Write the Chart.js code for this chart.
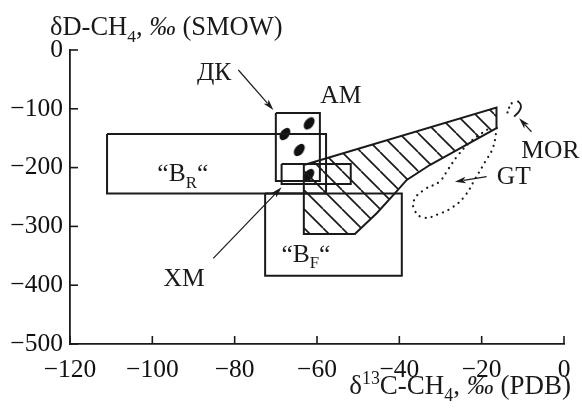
<!DOCTYPE html>
<html>
<head>
<meta charset="utf-8">
<script src="https://cdn.jsdelivr.net/npm/chart.js@4.4.0/dist/chart.umd.min.js"></script>
<style>
  html, body { margin: 0; padding: 0; background: #fff; }
  #wrap { width: 582px; height: 408px; }
</style>
</head>
<body>
<div id="wrap"><canvas id="chart" width="582" height="408"></canvas></div>
<script>
// ─── data: δ13C-CH4 (x, ‰ PDB) vs δD-CH4 (y, ‰ SMOW) ───
const xTicks = [-120, -100, -80, -60, -40, -20, 0];
const yTicks = [-500, -400, -300, -200, -100, 0];

// boxes: [xmin, xmax, ytop, ybottom]
const boxBR = [-111, -57.8, -143, -244];   // "B_R"
const boxBF = [-72.6, -39.4, -244, -384];  // "B_F"
const boxAM = [-70, -59.3, -107, -223];    // ДК / AM
const boxXM = [-68.6, -51.8, -194, -228];  // XM

// hatched field
const hatchX = [-63.2, -16.4, -16.4, -24.5, -32.6, -38.2, -41.1, -45.5, -50.8, -63.2, -63.2];
const hatchY = [-195.6, -98, -133, -164.5, -195.6, -221, -243.7, -277.7, -313, -313, -195.6];

// GT loop (dotted)
const gtX = [-16.3, -17.3, -19.2, -21.6, -24.1, -27, -30.4, -34, -36.2, -36.4, -33.8, -30.3, -28.1, -25.9, -22.8, -19.9, -17.6];
const gtY = [-132.7, -166.7, -190.5, -219.4, -248.3, -267, -278.9, -285.2, -273.8, -255.1, -236.9, -224, -202.4, -180.3, -156.5, -141.2, -131];

// MOR
const morDotX = [-12.7, -13.4, -13.9];
const morDotY = [-90.6, -99.1, -110.5];
const morX = [-11.3, -10.5, -10.7, -12.1];
const morY = [-86.2, -93.5, -102, -113.4];

// samples
const dotX = [-61.9, -67.8, -64.3, -62];
const dotY = [-124.7, -142.9, -170, -212.6];

// annotations (data units)
const arrows = [
  [-79.1, -34, -70.6, -102],     // ДК
  [-85.2, -354.3, -68.6, -233.5], // XM
  [-18.8, -215.5, -26.5, -224],  // GT
  [-7.9, -139, -10.9, -116.2]    // MOR
];
const notes = [
  { parts: [{ t: 'ДК' }], x: -85, y: -51 },
  { parts: [{ t: 'AM' }], x: -54.2, y: -90.1 },
  { parts: [{ t: '“B' }, { t: 'R', s: 'sub' }, { t: '“' }], x: -92.6, y: -222.8 },
  { parts: [{ t: '“B' }, { t: 'F', s: 'sub' }, { t: '“' }], x: -62.7, y: -360 },
  { parts: [{ t: 'XM' }], x: -92.3, y: -401.4 },
  { parts: [{ t: 'MOR' }], x: -3.3, y: -184.2 },
  { parts: [{ t: 'GT' }], x: -12.2, y: -227.9 }
];

const FONT = '"Liberation Serif", "Times New Roman", serif';
const INK = '#1a1a1a';

const zip = (xs, ys) => xs.map((v, i) => ({ x: v, y: ys[i] }));
const box = b => [
  { x: b[0], y: b[2] }, { x: b[1], y: b[2] }, { x: b[1], y: b[3] },
  { x: b[0], y: b[3] }, { x: b[0], y: b[2] }
];
const shape = (data, extra) => Object.assign({
  data, showLine: true, pointRadius: 0, borderColor: INK, borderWidth: 2,
  fill: false, tension: 0, clip: false
}, extra);

function hatchPattern() {
  const s = 19, c = document.createElement('canvas');
  c.width = c.height = s;
  const g = c.getContext('2d');
  g.strokeStyle = INK; g.lineWidth = 1.7;
  for (const k of [-s, 0, s]) { g.beginPath(); g.moveTo(k, 0); g.lineTo(k + s, s); g.stroke(); }
  return g.createPattern(c, 'repeat');
}

function blob() {
  const c = document.createElement('canvas');
  c.width = c.height = 18;
  const g = c.getContext('2d');
  g.translate(9, 9); g.rotate(-Math.PI / 3.4);
  g.beginPath(); g.ellipse(0, 0, 7, 4.4, 0, 0, Math.PI * 2);
  g.fillStyle = '#111'; g.fill();
  return c;
}

function rich(ctx, parts, x, y, align, size) {
  const font = p => `${p.i ? 'italic ' : ''}${p.s ? size * 0.66 : size}px ${FONT}`;
  let w = 0;
  parts.forEach(p => { ctx.font = font(p); p.w = ctx.measureText(p.t).width; w += p.w; });
  let cx = align === 'right' ? x - w : align === 'center' ? x - w / 2 : x;
  parts.forEach(p => {
    ctx.font = font(p);
    const dy = p.s === 'sub' ? size * 0.26 : p.s === 'sup' ? -size * 0.36 : 0;
    ctx.fillText(p.t, cx, y + dy);
    cx += p.w;
  });
}

function arrow(ctx, x1, y1, x2, y2) {
  const a = Math.atan2(y2 - y1, x2 - x1), L = 11, W = 3.2;
  ctx.beginPath(); ctx.moveTo(x1, y1);
  ctx.lineTo(x2 - Math.cos(a) * L * 0.8, y2 - Math.sin(a) * L * 0.8); ctx.stroke();
  ctx.beginPath();
  ctx.moveTo(x2, y2);
  ctx.lineTo(x2 - Math.cos(a) * L - Math.sin(a) * W, y2 - Math.sin(a) * L + Math.cos(a) * W);
  ctx.lineTo(x2 - Math.cos(a) * L * 0.75, y2 - Math.sin(a) * L * 0.75);
  ctx.lineTo(x2 - Math.cos(a) * L + Math.sin(a) * W, y2 - Math.sin(a) * L - Math.cos(a) * W);
  ctx.closePath(); ctx.fill();
}

const overlay = {
  id: 'overlay',
  afterDraw(chart) {
    const { ctx, chartArea: ca, scales: { x, y } } = chart;
    const X = v => x.getPixelForValue(v), Y = v => y.getPixelForValue(v);
    ctx.save();
    ctx.strokeStyle = INK; ctx.fillStyle = INK; ctx.lineWidth = 1.6;
    // inward tick marks
    xTicks.forEach(v => { ctx.beginPath(); ctx.moveTo(X(v), ca.bottom); ctx.lineTo(X(v), ca.bottom - 8); ctx.stroke(); });
    yTicks.forEach(v => { ctx.beginPath(); ctx.moveTo(ca.left, Y(v)); ctx.lineTo(ca.left + 8, Y(v)); ctx.stroke(); });
    // arrows
    ctx.lineWidth = 1.2;
    arrows.forEach(a => arrow(ctx, X(a[0]), Y(a[1]), X(a[2]), Y(a[3])));
    // labels
    ctx.textBaseline = 'alphabetic';
    notes.forEach(n => rich(ctx, n.parts.map(p => Object.assign({}, p)), X(n.x), Y(n.y), 'center', 25.5));
    // axis titles
    rich(ctx, [{ t: 'δD-CH' }, { t: '4', s: 'sub' }, { t: ', ' }, { t: '‰', i: true }, { t: ' (SMOW)' }], 50, 35, 'left', 26.5);
    rich(ctx, [{ t: 'δ' }, { t: '13', s: 'sup' }, { t: 'C-CH' }, { t: '4', s: 'sub' }, { t: ', ' }, { t: '‰', i: true }, { t: ' (PDB)' }], 571, 394, 'right', 27);
    ctx.restore();
  }
};

const minus = v => String(v).replace('-', '\u2212');

new Chart(document.getElementById('chart'), {
  type: 'scatter',
  data: {
    datasets: [
      shape(zip(hatchX, hatchY), { fill: 'shape', backgroundColor: hatchPattern() }),
      shape(box(boxBR)),
      shape(box(boxBF)),
      shape(box(boxAM)),
      shape(box(boxXM)),
      shape(zip(gtX, gtY), { tension: 0.45, borderWidth: 2.2, borderDash: [0.1, 6], borderCapStyle: 'round' }),
      shape(zip(morDotX, morDotY), { tension: 0.4, borderWidth: 2.2, borderDash: [0.1, 5], borderCapStyle: 'round' }),
      shape(zip(morX, morY), { tension: 0.5, borderWidth: 1.8 }),
      { data: zip(dotX, dotY), showLine: false, pointStyle: blob(), pointRadius: 9, clip: false }
    ]
  },
  options: {
    responsive: false,
    animation: false,
    events: [],
    layout: { padding: { left: 0, top: 50, right: 18, bottom: 0 } },
    plugins: { legend: { display: false }, tooltip: { enabled: false } },
    scales: {
      x: {
        type: 'linear', min: -120, max: 0,
        afterBuildTicks: s => { s.ticks = xTicks.map(value => ({ value })); },
        afterFit: s => { s.height = 64; },
        grid: { display: false, drawTicks: false },
        border: { display: true, color: INK, width: 1.8 },
        ticks: { color: '#111', font: { family: FONT, size: 25.5 }, padding: 11, maxRotation: 0, callback: minus }
      },
      y: {
        type: 'linear', min: -500, max: 0,
        afterBuildTicks: s => { s.ticks = yTicks.map(value => ({ value })); },
        afterFit: s => { s.width = 70; },
        grid: { display: false, drawTicks: false },
        border: { display: true, color: INK, width: 1.8 },
        ticks: { color: '#111', font: { family: FONT, size: 25.5 }, padding: 7, callback: minus }
      }
    }
  },
  plugins: [overlay]
});
</script>
</body>
</html>
